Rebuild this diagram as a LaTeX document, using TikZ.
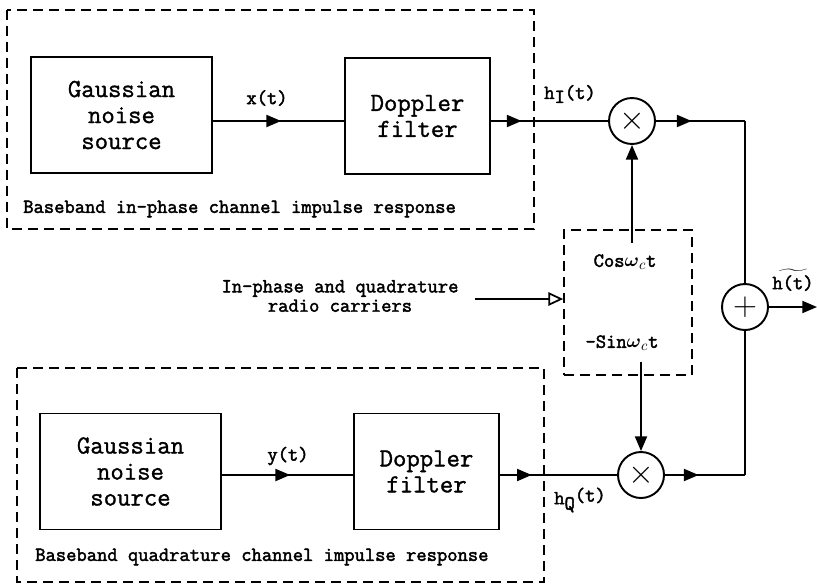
\documentclass[tikz,border=0pt]{standalone}
\usepackage{amsmath}
\usepackage{fontspec}
\newfontfamily\boxfnt[FakeBold=1.2]{Latin Modern Mono}
\newfontfamily\lblfnt[FakeBold=2.2]{Latin Modern Mono}
\usetikzlibrary{arrows.meta,decorations.markings}
\tikzset{
  wire/.style={line width=1.45pt},
  dashbox/.style={draw, line width=1.3pt, dash pattern=on 7.5pt off 4.5pt},
  blockbox/.style={draw, line width=1.45pt, inner sep=0pt, align=center,
    minimum width=136pt, minimum height=87pt,
    font=\fontsize{19.5}{19.5}\selectfont\boxfnt},
  opbox/.style={draw, circle, line width=1.45pt, inner sep=0pt, minimum size=34.5pt,
    font=\fontsize{26}{26}\selectfont},
  lbl/.style={inner sep=0pt, font=\fontsize{15}{14.5}\selectfont\lblfnt, align=center},
  tri/.style={-{Triangle[length=11pt,width=9pt]}},
  midarrow/.style={postaction={decorate}, decoration={markings,
    mark=at position #1 with {\arrow{Triangle[length=11pt,width=9pt]}}}},
  opentri/.style={-{Triangle[open,length=11pt,width=10pt,line width=1.3pt]}}
}
\begin{document}
\begin{tikzpicture}[x=0.75pt,y=-0.75pt]
\useasboundingbox (0,0) rectangle (817,586);
% dashed groups
\draw[dashbox] (7,10) rectangle (534,229);
\draw[dashbox] (17,368) rectangle (544,582);
\node[lbl, anchor=west] (capI) at (23,209) {Baseband in-phase channel impulse response};
\node[lbl, anchor=west] (capQ) at (35,557) {Baseband quadrature channel impulse response};
% top branch
\node[blockbox] (g1) at (121.5,115) {Gaussian\\noise\\source};
\node[blockbox, minimum width=109pt] (d1) at (417.5,116) {Doppler\\filter};
\node[opbox] (m1) at (632,121) {$\times$};
\node[lbl] (xt) at (267,98) {x(t)};
\node[lbl] (hi) at (570,94) {h\raisebox{-3pt}{I}(t)};
% bottom branch
\node[blockbox] (g2) at (130.5,471.5) {Gaussian\\noise\\source};
\node[blockbox, minimum width=109pt] (d2) at (426.5,471.5) {Doppler\\filter};
\node[opbox] (m2) at (641,475) {$\times$};
\node[lbl] (yt) at (288,456) {y(t)};
\node[lbl] (hq) at (580,500) {h\raisebox{-4pt}{Q}\raisebox{2pt}{(t)}};
% carriers
\node[dashbox, minimum width=96pt, minimum height=109pt, inner sep=0pt] (car) at (628,302.5) {};
\node[lbl] (cos) at (625,262) {Cos$\boldsymbol{\omega}_c$t};
\node[lbl] (sin) at (622,343) {-Sin$\boldsymbol{\omega}_c$t};
\node[lbl] (ctext) at (340,296) {In-phase and quadrature\\radio carriers};
\coordinate (ca) at (475,299);
\coordinate (cs) at (632,243);
\coordinate (ss) at (641,362);
% adder
\node[opbox] (add) at (745,307) {$+$};
\node[lbl] (ht) at (793,280) {$\widetilde{\mbox{\lblfnt h(t)}}$};
\coordinate (out) at (817,307);
\coordinate (c1) at (745,121);
\coordinate (c2) at (745,475);
% connectors
\draw[wire, midarrow=0.52] (g1.east |- 0,121) -- (d1.west |- 0,121);
\draw[wire, midarrow=0.26] (d1.east |- 0,121) -- (m1.west);
\draw[wire, midarrow=0.52] (g2.east |- 0,475) -- (d2.west |- 0,475);
\draw[wire, midarrow=0.27] (d2.east |- 0,475) -- (m2.west);
\draw[wire, midarrow=0.4] (m1.east) -- (c1);
\draw[wire] (c1) -- (add.north);
\draw[wire, midarrow=0.42] (m2.east) -- (c2);
\draw[wire] (c2) -- (add.south);
\draw[wire, tri] (add.east) -- (out);
\draw[wire, tri] (cs) -- (m1.south);
\draw[wire, tri] (ss) -- (m2.north);
\draw[wire, opentri] (ca) -- (ca -| car.west);
\end{tikzpicture}
\end{document}
